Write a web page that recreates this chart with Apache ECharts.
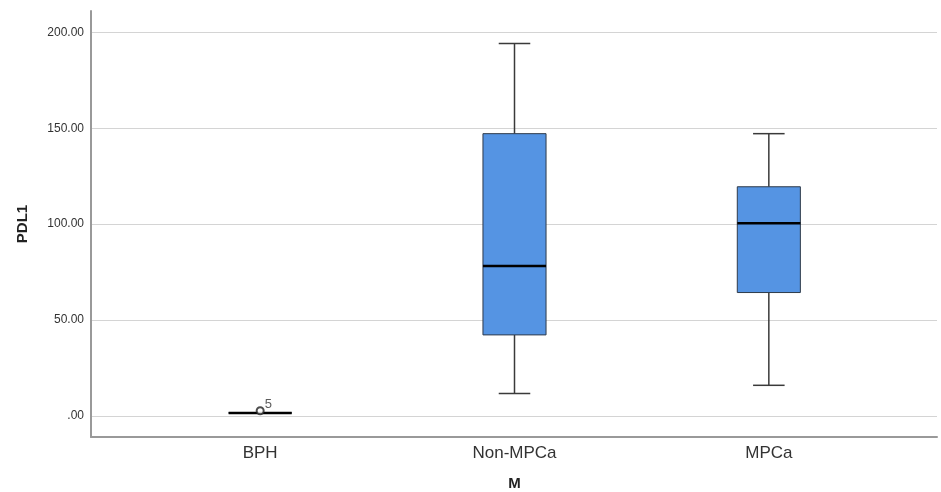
<!DOCTYPE html>
<html>
<head>
<meta charset="utf-8">
<title>PDL1 by M</title>
<script src="https://cdn.jsdelivr.net/npm/echarts@6/dist/echarts.min.js"></script>
<style>
  html, body { margin: 0; padding: 0; background: #fff; }
  #box-chart { width: 941px; height: 492px; }
</style>
</head>
<body>
<div id="box-chart"></div>
<script>
// groups on the x axis
var groups = ['BPH', 'Non-MPCa', 'MPCa'];
// five-number summaries
var lowWhisker = [1.5, 11.6, 15.9];
var q1Values = [1.5, 42.2, 64.3];
var medianValues = [1.5, 78.2, 100.4];
var q3Values = [1.5, 147.2, 119.5];
var highWhisker = [1.5, 194.2, 147.2];
// outliers: [group index, value, case number]
var outliers = [[0, 2.6, '5']];
// y axis range and grid lines
var yMin = -11.07;
var yMax = 211.2;
var yTicks = [0, 50, 100, 150, 200];

var boxData = groups.map(function (g, i) {
    return [i, lowWhisker[i], q1Values[i], medianValues[i], q3Values[i], highWhisker[i]];
});

function renderBox(params, api) {
    var idx = api.value(0);
    var band = api.size([1, 0])[0];
    var half = band * 0.124;
    var cap = band * 0.062;
    var low = api.coord([idx, api.value(1)]);
    var q1 = api.coord([idx, api.value(2)]);
    var med = api.coord([idx, api.value(3)]);
    var q3 = api.coord([idx, api.value(4)]);
    var high = api.coord([idx, api.value(5)]);
    var x = low[0];
    var whisker = { stroke: '#3a3a3a', lineWidth: 1.5 };
    return {
        type: 'group',
        children: [
            { type: 'line', shape: { x1: x, y1: q3[1], x2: x, y2: high[1] }, style: whisker },
            { type: 'line', shape: { x1: x, y1: q1[1], x2: x, y2: low[1] }, style: whisker },
            { type: 'line', shape: { x1: x - cap, y1: high[1], x2: x + cap, y2: high[1] }, style: whisker },
            { type: 'line', shape: { x1: x - cap, y1: low[1], x2: x + cap, y2: low[1] }, style: whisker },
            {
                type: 'rect',
                shape: { x: x - half, y: q3[1], width: half * 2, height: q1[1] - q3[1] },
                style: { fill: '#5594e3', stroke: '#2e3a4a', lineWidth: 1 }
            },
            {
                type: 'line',
                shape: { x1: x - half, y1: med[1], x2: x + half, y2: med[1] },
                style: { stroke: '#000', lineWidth: 2.5 }
            }
        ]
    };
}

var chart = echarts.init(document.getElementById('box-chart'));
var option = {
    backgroundColor: '#fff',
    animation: false,
    grid: [
        { left: 91, right: 4, top: 11, bottom: 55, outerBoundsMode: 'none' },
        { left: 133, right: 45, top: 11, bottom: 55, outerBoundsMode: 'none' }
    ],
    xAxis: [
        {
            gridIndex: 0,
            type: 'value',
            min: 0,
            max: 1,
            axisLine: { show: true, onZero: false, lineStyle: { color: '#999', width: 2 } },
            axisTick: { show: false },
            axisLabel: { show: false },
            splitLine: { show: false }
        },
        {
            gridIndex: 1,
            type: 'category',
            data: groups,
            axisLine: { show: false },
            axisTick: { show: false },
            axisLabel: { color: '#333', fontSize: 17, margin: 8, fontFamily: 'Liberation Sans' },
            name: 'M',
            nameLocation: 'middle',
            nameGap: 39,
            nameTextStyle: { color: '#222', fontSize: 15, fontWeight: 'bold', fontFamily: 'Liberation Sans' }
        }
    ],
    yAxis: [
        {
            gridIndex: 0,
            type: 'value',
            min: yMin,
            max: yMax,
            axisLine: { show: true, lineStyle: { color: '#999', width: 2 } },
            axisTick: { show: false },
            axisLabel: {
                color: '#333',
                fontSize: 12,
                margin: 7,
                fontFamily: 'Liberation Sans',
                showMinLabel: false,
                showMaxLabel: false,
                formatter: function (v) {
                    if (yTicks.indexOf(v) < 0) return '';
                    return v === 0 ? '.00' : v.toFixed(2);
                }
            },
            splitLine: { show: false },
            name: 'PDL1',
            nameLocation: 'middle',
            nameGap: 61,
            nameTextStyle: { color: '#222', fontSize: 15, fontWeight: 'bold', fontFamily: 'Liberation Sans' }
        },
        {
            gridIndex: 1,
            type: 'value',
            min: yMin,
            max: yMax,
            show: false
        }
    ],
    series: [
        {
            // horizontal grid lines at the tick values
            type: 'line',
            xAxisIndex: 0,
            yAxisIndex: 0,
            data: [],
            silent: true,
            z: 0,
            markLine: {
                symbol: 'none',
                silent: true,
                z: 0,
                label: { show: false },
                lineStyle: { color: '#d4d4d4', width: 1, type: 'solid' },
                data: yTicks.map(function (t) { return { yAxis: t }; })
            }
        },
        {
            type: 'custom',
            xAxisIndex: 1,
            yAxisIndex: 1,
            renderItem: renderBox,
            encode: { x: 0, y: [1, 2, 3, 4, 5] },
            data: boxData,
            z: 3
        },
        {
            type: 'scatter',
            xAxisIndex: 1,
            yAxisIndex: 1,
            symbol: 'emptyCircle',
            symbolSize: 7,
            itemStyle: { color: '#222', borderWidth: 1 },
            label: {
                show: true,
                position: 'right',
                distance: 0,
                offset: [0, -6],
                color: '#333',
                fontSize: 13,
                fontFamily: 'Liberation Sans',
                formatter: function (p) { return p.data[2]; }
            },
            data: outliers,
            z: 4
        }
    ]
};
chart.setOption(option);
window.onresize = chart.resize;
</script>
</body>
</html>
